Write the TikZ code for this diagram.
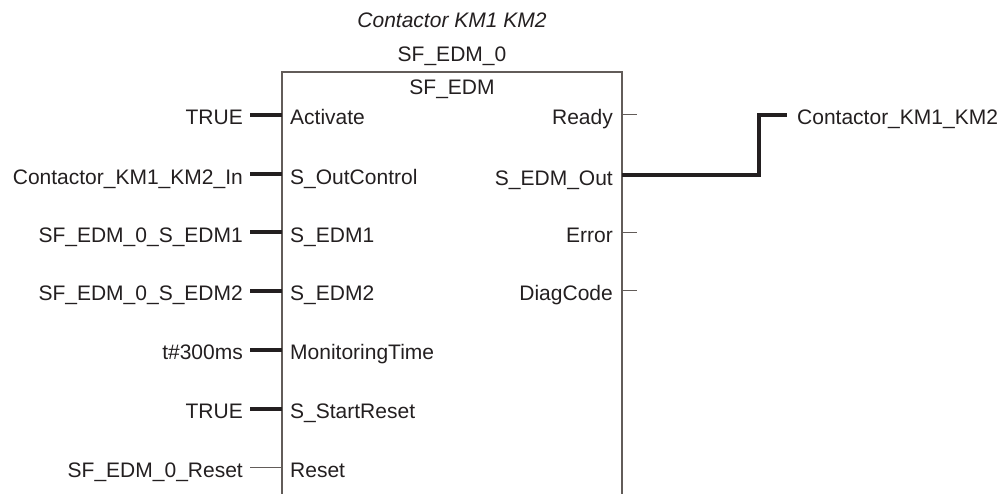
\documentclass[tikz,border=0pt]{standalone}
\usepackage{fontspec}
\setmainfont{Liberation Sans}
\definecolor{ink}{HTML}{231F20}
\definecolor{frame}{HTML}{625C59}
\begin{document}
\begin{tikzpicture}[x=1pt,y=-1pt,
  every node/.style={font=\fontsize{21}{25}\selectfont, text=ink, inner sep=0pt},
  val/.style={anchor=base east, inner xsep=7pt},
  inp/.style={anchor=base west, inner xsep=0pt},
  outp/.style={anchor=base east},
  ttl/.style={anchor=base},
  boxline/.style={draw=frame, line width=1.4pt},
  thickpin/.style={draw=ink, line width=4pt},
  thinpin/.style={draw=frame, line width=1pt},
  wire/.style={draw=ink, line width=4pt, line join=miter}]
\useasboundingbox (0,0) rectangle (1007,494);
% block frame
\coordinate (bl) at (282,500);
\coordinate (tl) at (282,72);
\coordinate (tr) at (622,72);
\coordinate (br) at (622,500);
\draw[boxline] (bl) -- (tl) -- (tr) -- (br);
% titles
\node[ttl] (inst) at (452,28) {\itshape Contactor KM1 KM2};
\node[ttl] (name) at (452,62) {SF\_EDM\_0};
\node[ttl] (type) at (452,95) {SF\_EDM};
% input pin coordinates on the frame
\coordinate (iA) at (282,114.7);
\coordinate (iB) at (282,174.5);
\coordinate (iC) at (282,232.5);
\coordinate (iD) at (282,291.0);
\coordinate (iE) at (282,349.7);
\coordinate (iF) at (282,408.5);
\coordinate (iG) at (282,467.3);
% input names
\node[inp] (nA) at (290,124.4) {Activate};
\node[inp] (nB) at (290,184.2) {S\_OutControl};
\node[inp] (nC) at (290,242.2) {S\_EDM1};
\node[inp] (nD) at (290,300.7) {S\_EDM2};
\node[inp] (nE) at (290,359.4) {MonitoringTime};
\node[inp] (nF) at (290,418.2) {S\_StartReset};
\node[inp] (nG) at (290,477.0) {Reset};
% input values
\node[val] (vA) at (250,124.4) {TRUE};
\node[val] (vB) at (250,184.2) {Contactor\_KM1\_KM2\_In};
\node[val] (vC) at (250,242.2) {SF\_EDM\_0\_S\_EDM1};
\node[val] (vD) at (250,300.7) {SF\_EDM\_0\_S\_EDM2};
\node[val] (vE) at (250,359.4) {t\#300ms};
\node[val] (vF) at (250,418.2) {TRUE};
\node[val] (vG) at (250,477.0) {SF\_EDM\_0\_Reset};
\draw[thickpin] (vA.east |- iA) -- (iA);
\draw[thickpin] (vB.east |- iB) -- (iB);
\draw[thickpin] (vC.east |- iC) -- (iC);
\draw[thickpin] (vD.east |- iD) -- (iD);
\draw[thickpin] (vE.east |- iE) -- (iE);
\draw[thickpin] (vF.east |- iF) -- (iF);
\draw[thinpin] (vG.east |- iG) -- (iG);
% output pins
\coordinate (oA) at (622,114.7);
\coordinate (oB) at (622,175.5);
\coordinate (oC) at (622,232.5);
\coordinate (oD) at (622,291.0);
\coordinate (sA) at (637,114.7);
\coordinate (sC) at (637,232.5);
\coordinate (sD) at (637,291.0);
\node[outp] (rA) at (613,124.4) {Ready};
\node[outp] (rB) at (613,185.2) {S\_EDM\_Out};
\node[outp] (rC) at (613,242.2) {Error};
\node[outp] (rD) at (613,300.7) {DiagCode};
\draw[thinpin] (oA) -- (sA);
\draw[thinpin] (oC) -- (sC);
\draw[thinpin] (oD) -- (sD);
% output wire
\node[anchor=base west, inner xsep=10pt] (out) at (787,124.4) {Contactor\_KM1\_KM2};
\coordinate (bend) at (759,114.7);
\draw[wire] (oB) -| (bend) -- (out.west |- bend);
\end{tikzpicture}
\end{document}
